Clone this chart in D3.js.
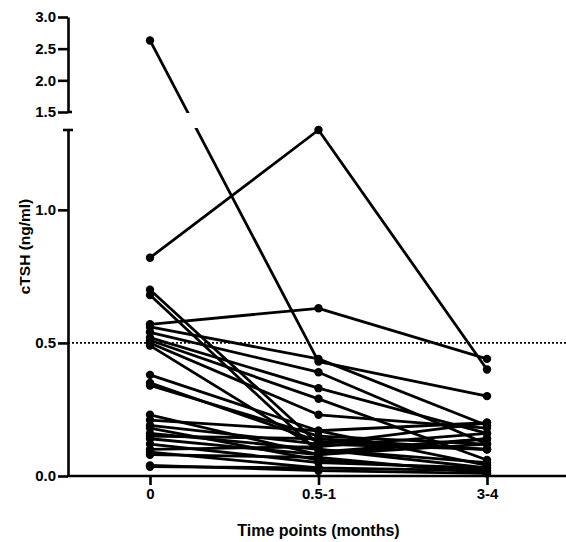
<!DOCTYPE html>
<html>
<head>
<meta charset="utf-8">
<script src="https://cdn.jsdelivr.net/npm/d3@7"></script>
<style>
  html, body { margin: 0; padding: 0; background: #fff; }
  svg { display: block; }
  text { font-family: "Liberation Sans", Arial, sans-serif; font-weight: bold; fill: #000; }
</style>
</head>
<body>
<svg id="chart" width="566" height="542"></svg>
<script>
// ---- data ----
const timePoints = ["0", "0.5-1", "3-4"];
const upperTicks = [1.5, 2.0, 2.5, 3.0];
const lowerTicks = [0.0, 0.5, 1.0];
const referenceLevel = 0.5;
// each subject: cTSH at the three time points (null = not measured)
const month0   = [2.63, 0.82, 0.57, 0.70, 0.68, 0.56, 0.54, 0.52, 0.51, 0.50, 0.49, 0.38, 0.35, 0.34, 0.23, 0.21, 0.19, 0.18, 0.16, 0.15, 0.14, 0.12, 0.10, 0.09, 0.08, 0.04, 0.035];
const month05  = [0.43, 1.30, 0.63, 0.12, 0.09, 0.44, 0.39, 0.33, 0.29, 0.23, 0.10, 0.17, 0.13, 0.15, 0.08, 0.17, 0.12, 0.06, 0.10, 0.14, 0.08, 0.05, 0.11, 0.03, 0.07, 0.02, 0.03];
const month34  = [0.30, 0.40, 0.44, 0.10, 0.14, 0.19, 0.12, 0.16, 0.06, 0.18, 0.03, 0.20, 0.10, 0.12, 0.14, 0.04, 0.20, 0.02, 0.05, 0.10, 0.12, 0.03, 0.16, 0.02, 0.01, 0.01, null];
const yAxisTitle = "cTSH (ng/ml)";
const xAxisTitle = "Time points (months)";

// ---- layout ----
const svg = d3.select("#chart");
const axisX = 68;
const xRight = 566;
const x = d3.scalePoint().domain(timePoints).range([150, 487]);
const yTop = d3.scaleLinear().domain([1.5, 3.0]).range([112, 17]);
const yBot = d3.scaleLinear().domain([0, 1.3]).range([476, 130]);
const breakAt = 1.4;
const yPix = v => v >= breakAt ? yTop(v) : yBot(v);

const subjects = month0.map((v, i) => [month0[i], month05[i], month34[i]]);

// clip for the axis break gap
const defs = svg.append("defs");
const clip = defs.append("clipPath").attr("id", "gapclip");
clip.append("rect").attr("x", 0).attr("y", 0).attr("width", 566).attr("height", 113);
clip.append("rect").attr("x", 0).attr("y", 128).attr("width", 566).attr("height", 414);

// reference dotted line
svg.append("line")
  .attr("x1", axisX).attr("x2", xRight)
  .attr("y1", yBot(referenceLevel)).attr("y2", yBot(referenceLevel))
  .attr("stroke", "#000").attr("stroke-width", 1.6)
  .attr("stroke-dasharray", "2,2");

// lines
const line = d3.line()
  .defined(d => d.v != null)
  .x(d => x(d.t))
  .y(d => yPix(d.v));

const g = svg.append("g");
g.append("g").attr("clip-path", "url(#gapclip)")
  .selectAll("path").data(subjects).join("path")
  .attr("d", s => line(s.map((v, j) => ({ t: timePoints[j], v }))))
  .attr("fill", "none").attr("stroke", "#000").attr("stroke-width", 2.8)
  .attr("stroke-linejoin", "round");

// points
const pts = [];
subjects.forEach(s => s.forEach((v, j) => { if (v != null) pts.push({ t: timePoints[j], v }); }));
g.selectAll("circle").data(pts).join("circle")
  .attr("cx", d => x(d.t)).attr("cy", d => yPix(d.v)).attr("r", 4.2)
  .attr("fill", "#000");

// axes
function styleAxis(sel) {
  sel.selectAll("path, line").attr("stroke", "#000").attr("stroke-width", 2.6);
  sel.selectAll("text").style("font-size", "15px").style("font-weight", "bold")
    .style("font-family", '"Liberation Sans", Arial, sans-serif');
}
const axTop = svg.append("g").attr("transform", `translate(${axisX},0)`)
  .call(d3.axisLeft(yTop).tickValues(upperTicks).tickFormat(d3.format(".1f"))
    .tickSize(10).tickSizeOuter(0).tickPadding(2));
styleAxis(axTop);
const axBot = svg.append("g").attr("transform", `translate(${axisX},0)`)
  .call(d3.axisLeft(yBot).tickValues(lowerTicks).tickFormat(d3.format(".1f"))
    .tickSize(10).tickSizeOuter(0).tickPadding(2));
styleAxis(axBot);
// break caps
svg.append("line").attr("x1", axisX - 5).attr("x2", axisX + 5)
  .attr("y1", yBot.range()[1]).attr("y2", yBot.range()[1])
  .attr("stroke", "#000").attr("stroke-width", 2.6);
svg.append("line").attr("x1", axisX).attr("x2", axisX + 4)
  .attr("y1", yTop.range()[0]).attr("y2", yTop.range()[0])
  .attr("stroke", "#000").attr("stroke-width", 2.6);

const axX = svg.append("g").attr("transform", `translate(0,${yBot(0)})`)
  .call(d3.axisBottom(x).tickSize(9).tickSizeOuter(0).tickPadding(3));
axX.select(".domain").remove();
axX.append("line").attr("x1", axisX - 1).attr("x2", xRight).attr("y1", 0).attr("y2", 0)
  .attr("stroke", "#000").attr("stroke-width", 2.6);
styleAxis(axX);

// titles
svg.append("text")
  .attr("transform", `translate(30,${(17 + 476) / 2}) rotate(-90)`)
  .attr("text-anchor", "middle")
  .style("font-size", "15.5px")
  .text(yAxisTitle);
svg.append("text")
  .attr("x", (x("0") + x("3-4")) / 2).attr("y", 536)
  .attr("text-anchor", "middle")
  .style("font-size", "16px")
  .text(xAxisTitle);
</script>
</body>
</html>
